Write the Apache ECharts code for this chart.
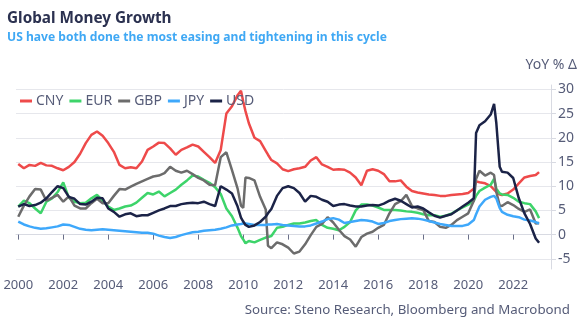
<!DOCTYPE html>
<html>
<head>
<meta charset="utf-8">
<script src="https://cdn.jsdelivr.net/npm/echarts@6/dist/echarts.min.js"></script>
<style>
html,body{margin:0;padding:0;background:#fff;}
#chart{width:580px;height:331px;}
</style>
</head>
<body>
<div id="chart"></div>
<script>
const dates = [2000.00,2000.25,2000.50,2000.75,2001.00,2001.25,2001.50,2001.75,2002.00,2002.25,2002.50,2002.75,
2003.00,2003.25,2003.50,2003.75,2004.00,2004.25,2004.50,2004.75,2005.00,2005.25,2005.50,2005.75,
2006.00,2006.25,2006.50,2006.75,2007.00,2007.25,2007.50,2007.75,2008.00,2008.25,2008.50,2008.75,
2009.00,2009.25,2009.50,2009.75,2009.90,2010.00,2010.10,2010.25,2010.50,2010.75,2011.00,2011.10,2011.25,2011.50,2011.75,
2012.00,2012.25,2012.50,2012.75,2013.00,2013.25,2013.50,2013.75,2014.00,2014.25,2014.50,2014.75,
2015.00,2015.25,2015.50,2015.75,2016.00,2016.25,2016.50,2016.75,2017.00,2017.25,2017.50,2017.75,
2018.00,2018.25,2018.50,2018.75,2019.00,2019.25,2019.50,2019.75,2020.00,2020.25,2020.35,2020.50,2020.75,
2021.00,2021.15,2021.25,2021.40,2021.50,2021.75,2022.00,2022.25,2022.50,2022.75,2023.00,2023.15];

const cny = [14.6,13.7,14.4,14.2,14.8,14.3,14.2,13.7,13.3,14.0,15.0,16.7,
18.9,20.6,21.3,20.4,18.9,17.1,14.4,13.7,13.9,13.7,15.1,17.5,
18.2,19.0,18.9,17.8,16.5,17.5,18.0,18.6,18.2,17.1,16.0,14.8,
17.5,25.0,26.5,28.8,29.7,27.5,25.5,23.0,20.0,19.3,17.3,16.5,15.4,14.7,13.5,
13.1,13.5,13.7,14.0,15.3,16.0,14.5,14.0,13.4,13.5,13.4,12.8,
11.8,10.2,13.2,13.5,13.2,12.5,11.0,11.0,11.2,9.9,9.0,8.7,
8.5,8.3,8.2,8.0,8.0,8.2,8.3,8.4,8.6,9.5,11.0,10.8,10.6,
10.0,9.3,8.8,8.3,8.2,8.5,9.3,10.6,11.8,12.1,12.3,12.9];

const eur = [5.8,7.0,6.5,5.4,4.4,6.8,7.5,8.8,10.8,7.6,6.8,6.5,
6.6,7.5,8.2,7.0,5.8,5.1,5.4,5.8,6.0,6.6,7.6,8.6,
8.3,8.9,7.9,8.6,9.3,10.3,11.2,12.2,12.0,11.3,10.7,9.8,
8.4,5.4,3.8,1.4,-0.3,-1.0,-1.8,-1.3,-1.6,-1.1,-0.6,-0.5,-0.3,1.4,1.6,
2.0,2.3,2.3,2.5,2.8,3.0,2.0,1.4,1.2,0.9,1.6,2.6,
5.0,6.2,6.2,6.0,5.6,5.1,5.1,5.1,5.0,4.8,4.7,4.5,
4.2,4.0,4.0,3.7,3.9,4.3,5.0,5.6,6.2,7.0,8.0,9.0,9.7,
10.3,11.5,9.5,8.5,8.3,8.2,7.6,6.8,6.5,6.3,4.8,3.4];

const gbp = [3.7,6.0,7.9,9.4,9.3,7.0,7.6,8.2,6.8,7.9,6.0,5.4,
5.4,6.5,7.4,6.5,6.5,8.0,9.4,9.3,9.9,10.5,11.0,11.5,
12.0,12.2,12.7,14.0,13.2,12.8,13.2,12.5,11.7,11.2,10.3,10.2,
16.0,17.0,13.3,9.5,6.0,5.5,11.8,11.7,11.2,7.8,5.2,-2.3,-2.8,-1.6,-2.0,
-2.7,-3.9,-3.5,-2.0,-0.1,1.6,2.2,3.6,2.5,1.0,-0.3,-1.0,
-2.5,-0.5,0.2,0.6,1.4,2.0,4.4,6.3,6.9,8.2,5.9,5.4,
5.1,2.8,2.6,1.6,1.4,2.0,3.0,3.7,4.4,7.0,11.5,13.2,12.2,
12.8,12.3,8.8,6.0,5.9,6.7,6.1,5.3,4.7,5.2,2.3,2.4];

const jpy = [2.7,2.1,1.7,1.4,1.2,1.3,1.5,1.7,2.1,2.0,1.6,1.2,
1.0,0.9,1.0,1.1,1.0,0.9,0.8,0.7,0.6,0.5,0.4,0.4,
0.2,-0.2,-0.5,-0.7,-0.5,-0.1,0.2,0.5,0.6,0.8,0.9,1.0,
1.2,1.5,1.9,2.1,2.2,2.3,2.3,2.2,2.0,2.0,2.0,2.1,2.1,2.2,2.0,
1.9,1.8,1.7,1.7,1.9,2.3,2.7,3.2,3.4,3.1,2.4,2.6,
2.8,3.0,2.9,2.7,2.2,2.4,2.8,3.0,3.2,3.3,3.4,3.3,
3.1,2.8,2.5,2.2,2.0,1.8,1.8,1.8,2.1,3.0,4.2,5.8,7.2,
7.8,8.0,7.5,5.5,4.7,4.1,3.8,3.6,3.1,2.9,2.6,2.3];

const usd = [5.8,6.3,5.9,6.1,6.6,7.5,8.8,10.0,9.6,7.8,7.4,6.3,
6.2,6.8,7.6,7.5,5.4,4.7,3.7,4.2,4.4,3.8,4.0,4.0,
4.5,5.0,5.4,5.9,5.9,6.3,6.5,6.6,6.5,6.8,6.3,5.9,
10.0,9.3,8.5,5.8,3.5,2.7,2.0,1.6,1.9,2.6,3.7,4.4,5.3,8.0,9.6,
10.0,9.6,8.6,6.8,8.0,7.8,7.2,6.8,5.9,6.2,6.3,6.0,
5.8,5.8,6.0,6.1,6.0,6.4,7.0,7.4,7.0,6.3,5.6,5.8,
5.4,4.6,3.9,3.5,3.9,4.2,5.0,5.8,6.6,7.5,21.0,22.6,23.4,
24.8,27.0,23.0,14.0,13.0,12.8,11.7,7.5,4.4,2.2,-0.8,-1.7];

const seriesNames = ['CNY','EUR','GBP','JPY','USD'];
const seriesValues = [cny, eur, gbp, jpy, usd];
const seriesColors = ['#ee4a4a','#3dd46a','#6c6c6c','#3ea8fb','#1b2347'];
const xTickValues = [2000,2002,2004,2006,2008,2010,2012,2014,2016,2018,2020,2022];
const yTickValues = [-5,0,5,10,15,20,25,30];

const FONT = 'Noto Sans';
const chart = echarts.init(document.getElementById('chart'), null, {renderer:'canvas'});
chart.setOption({
  animation:false,
  backgroundColor:'#ffffff',
  title:[
    {text:'Global Money Growth', left:7, top:11, padding:0,
     textStyle:{fontFamily:FONT, fontSize:15.3, fontWeight:'bold', color:'#2b3150'}},
    {text:'US have both done the most easing and tightening in this cycle', left:7, top:32, padding:0,
     textStyle:{fontFamily:FONT, fontSize:12.1, fontWeight:'bold', color:'#3fa8f4'}},
    {text:'YoY % Δ', right:3, top:58, padding:0,
     textStyle:{fontFamily:FONT, fontSize:14, fontWeight:'normal', color:'#565c78'}},
    {text:'Source: Steno Research, Bloomberg and Macrobond', right:10, top:304, padding:0,
     textStyle:{fontFamily:FONT, fontSize:13.3, fontWeight:'normal', color:'#565c78'}}
  ],
  legend:{
    data:seriesNames, left:20, top:94, padding:0, itemWidth:12, itemHeight:3, itemGap:6, icon:'rect',
    textStyle:{fontFamily:FONT, fontSize:14, color:'#565c78', padding:[0,0,0,-1]}
  },
  grid:{left:16, right:29, top:85, bottom:62, containLabel:false},
  xAxis:{
    type:'value', min:1999.9, max:2023.68,
    axisLine:{show:true, lineStyle:{color:'#d8dae2', width:1}},
    axisTick:{show:true, length:5, customValues:xTickValues, lineStyle:{color:'#6a6f88'}},
    axisLabel:{customValues:xTickValues, margin:10, fontFamily:FONT, fontSize:13, color:'#565c78',
      formatter:function(v){return String(Math.round(v));}},
    splitLine:{show:false}
  },
  yAxis:{
    type:'value', position:'right', min:-7.1, max:30.9,
    axisLine:{show:true, lineStyle:{color:'#d8dae2', width:1}},
    axisTick:{show:true, length:5, customValues:yTickValues, lineStyle:{color:'#d8dae2'}},
    axisLabel:{customValues:yTickValues, margin:7, fontFamily:FONT, fontSize:14, color:'#565c78'},
    splitLine:{show:true, lineStyle:{color:'#e6e7ec', width:1}}
  },
  series: seriesNames.map(function(n,i){
    return {
      name:n, type:'line', showSymbol:false, symbol:'none',
      lineStyle:{width:2.5, color:seriesColors[i]}, itemStyle:{color:seriesColors[i]},
      data: dates.map(function(d,j){return [d, seriesValues[i][j]];})
    };
  })
});
</script>
</body>
</html>
